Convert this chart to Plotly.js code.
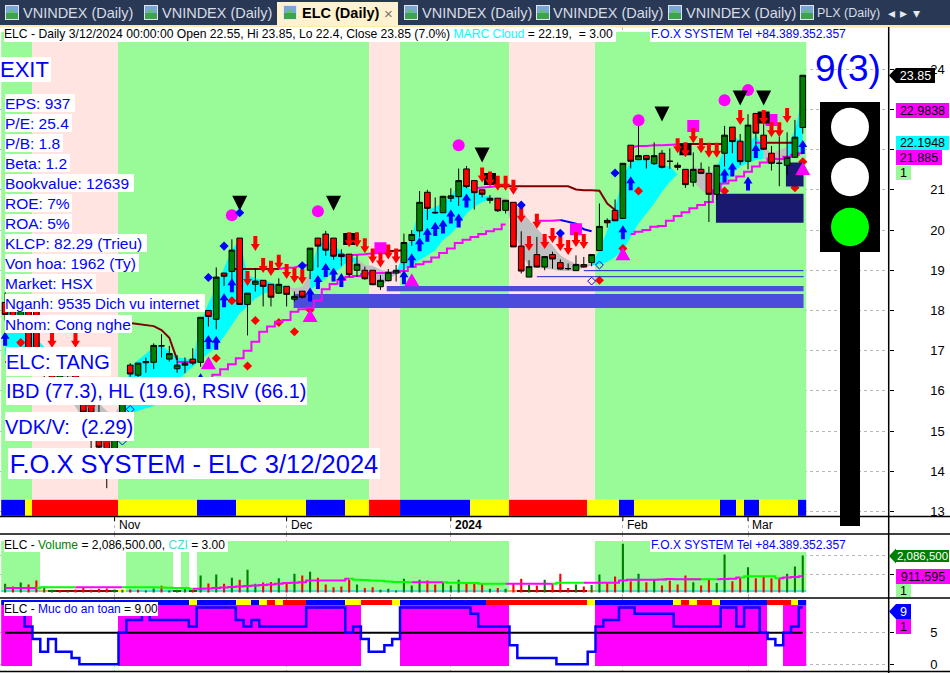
<!DOCTYPE html>
<html><head><meta charset="utf-8">
<script src="https://cdn.plot.ly/plotly-3.0.1.min.js"></script>
<style>html,body{margin:0;padding:0;background:#fff;overflow:hidden}#c{width:950px;height:673px}</style>
</head><body><div id="c"></div>
<script>
// ---------- price series (bar index 0..102) ----------
const openP=[18.20,18.00,17.70,18.20,18.10,16.80,16.50,16.10,16.40,16.60,15.95,15.95,15.40,14.90,14.50,15.35,
16.64,16.39,16.70,16.71,17.12,16.79,16.55,16.64,16.79,16.71,
18.00,17.78,18.93,18.97,19.80,18.15,18.65,18.75,18.65,18.43,18.60,18.28,18.48,
19.00,19.80,19.90,19.80,19.40,19.40,19.00,19.00,19.00,18.59,18.74,18.93,
19.19,19.74,19.98,20.94,20.44,20.43,20.79,20.83,21.52,21.23,
21.00,20.74,20.79,20.49,20.69,19.60,18.83,19.39,19.08,19.39,
19.19,19.04,18.99,19.14,19.19,19.49,20.24,20.49,20.29,22.11,
21.75,21.85,21.65,21.91,21.71,21.61,21.51,21.19,21.51,21.41,
20.89,21.91,22.56,22.21,21.71,22.90,22.36,21.91,21.66,21.61,21.81,22.55];
const highP=[18.45,18.25,18.10,18.30,18.20,17.00,16.70,16.50,16.70,16.70,16.00,16.00,15.70,15.00,15.40,16.05,
16.69,16.69,16.83,17.18,17.41,17.12,16.89,16.83,17.06,17.83,
18.00,19.07,18.93,19.77,19.80,18.43,19.05,18.75,18.65,18.80,18.60,18.47,18.48,
19.55,19.80,19.98,19.80,19.52,19.40,19.37,19.09,19.00,18.88,19.03,19.13,
19.91,20.00,20.97,21.00,20.81,20.84,21.04,21.53,21.59,21.23,
21.00,20.87,20.79,20.74,20.69,19.97,19.25,19.83,19.34,19.46,
19.27,19.17,19.37,19.33,19.39,20.66,20.29,20.76,21.66,22.11,
22.68,21.87,22.18,21.99,22.03,21.68,21.51,21.93,21.68,21.58,
21.61,22.59,22.56,22.39,22.88,22.90,22.94,22.09,22.32,22.43,22.74,23.85];
const lowP=[17.75,17.60,17.50,16.80,16.70,16.30,16.00,15.90,16.20,15.90,15.30,14.55,14.40,13.58,14.45,15.30,
16.35,16.30,16.45,16.54,16.83,16.73,16.45,16.44,16.64,16.60,
17.60,17.53,18.61,18.68,18.15,17.38,18.47,18.10,18.10,18.41,18.10,18.22,18.30,
18.78,19.07,19.36,19.26,19.11,18.83,18.83,18.76,18.63,18.51,18.72,18.72,
19.00,19.61,19.83,20.25,20.40,20.43,20.70,20.60,21.04,20.51,
20.81,20.66,20.45,20.41,19.58,18.92,18.83,19.07,19.00,19.04,
19.02,19.00,18.99,19.07,19.10,19.49,20.06,20.23,20.29,21.53,
21.74,21.53,21.62,21.53,21.52,21.49,21.05,21.08,21.39,20.20,
20.75,21.58,21.91,21.62,21.51,22.07,21.99,21.48,21.09,21.37,21.80,22.40];
const closeP=[17.90,17.70,18.00,16.90,16.85,16.50,16.10,16.40,16.60,16.00,15.47,15.45,14.60,14.20,15.30,15.95,
16.42,16.69,16.73,17.13,17.12,16.93,16.64,16.69,16.69,17.83,
17.85,18.83,18.85,19.50,18.15,18.43,18.73,18.60,18.33,18.65,18.40,18.35,18.33,
19.55,19.60,19.50,19.35,19.34,18.89,19.15,18.79,18.64,18.75,18.95,19.00,
19.69,19.89,20.69,20.54,20.43,20.84,20.85,21.23,21.08,20.93,
20.89,20.79,20.48,20.74,19.58,18.98,19.09,19.08,19.34,19.28,
19.03,19.04,19.14,19.08,19.39,20.09,20.18,20.23,21.66,21.71,
21.85,21.75,21.85,21.56,21.71,21.56,21.13,21.51,21.41,20.89,
21.61,22.36,22.20,21.70,22.61,22.41,22.01,21.66,21.66,21.81,22.31,23.85];

// ---------- MARC cloud ----------
const cloudTop=[18.2,18.3,18.2,17.9,17.3,17.1,17.0,17.0,16.9,16.8,15.9,15.8,15.7,15.5,15.4,15.8,
16.60,16.77,16.93,17.08,17.14,16.97,16.83,16.81,16.75,
17.72,18.18,18.59,19.05,19.51,19.76,18.88,18.80,18.76,18.69,18.64,18.61,
18.55,18.59,18.93,19.63,19.75,19.63,19.46,19.34,
19.30,19.13,19.11,19.01,18.97,18.93,
19.46,19.83,20.58,20.49,20.58,20.66,20.85,21.12,21.08,20.95,20.87,20.83,
20.83,20.79,20.64,20.50,20.25,20.04,19.83,19.62,19.37,19.25,19.17,19.15,19.17,
19.50,20.00,20.54,21.33,21.70,21.74,21.74,21.70,21.62,21.58,21.39,
21.41,21.56,21.53,21.41,21.53,22.07,22.32,22.24,22.16,22.36,22.06,
21.91,21.99,22.07,22.49,23.32];
const cloudBot=[16.9,16.85,16.8,16.8,16.75,16.7,16.4,16.2,15.9,15.6,15.3,15.0,14.7,14.55,14.5,15.3,
15.44,15.51,15.57,15.63,15.73,15.98,16.23,16.44,16.60,
16.75,16.93,17.10,17.35,17.64,17.93,18.10,18.30,18.41,18.49,18.55,18.61,
18.43,18.33,18.51,18.64,18.80,18.93,19.07,19.26,
19.13,18.80,18.64,18.59,18.76,18.90,
19.02,19.13,19.25,19.37,19.50,19.75,19.91,20.12,20.41,20.58,20.70,20.76,
20.70,20.54,20.08,19.42,19.08,19.07,19.04,19.02,18.98,18.98,19.00,19.07,19.12,
19.15,19.21,19.33,19.50,19.83,20.16,20.41,20.66,20.95,21.20,21.39,
21.41,21.20,21.00,20.87,20.95,21.16,21.41,21.58,21.66,21.74,21.78,
21.70,21.66,21.74,21.83,21.99];
const cyanRuns=[[0,5],[15,36],[39,45],[50,62],[75,86],[91,97],[100,102]];
const grayRuns=[[5,15],[36,39],[45,50],[62,75],[86,91],[97,100]];

// ---------- indicator lines ----------
const brownIdx=[16,17,18,19,20,21,22,null,29,30,31,32,33,34,35,null,49,50,51,null,63,64,65,66,67,68,69,70,71,72,73,74,75,76,77,78,null,87,88,89,90,91,92,null,97,98,99,100,101];
const brownVal=[17.69,17.66,17.64,17.61,17.51,17.32,16.77,null,19.03,19.03,19.03,19.03,19.03,19.03,19.03,null,19.47,19.48,19.50,null,21.09,21.09,21.09,21.09,21.09,21.09,21.09,21.09,21.09,21.09,21.01,20.99,20.99,20.98,20.66,20.50,null,22.14,22.14,22.14,22.14,22.14,22.14,null,22.17,22.17,22.17,22.17,22.17];
const magIdx=[22,23,24,null,35,36,37,38,39,null,43,44,45,46,47,48,49,null,60,61,62,63,null,68,69,70,71,null,80,81,82,83,84,85,86,87,null,96,97];
const magVal=[16.72,16.72,16.72,null,19.03,19.06,19.07,19.12,19.14,null,19.36,19.37,19.38,19.40,19.42,19.44,19.47,null,21.04,21.06,21.08,21.09,null,20.23,20.23,20.23,20.25,null,22.06,22.09,22.09,22.11,22.11,22.12,22.14,22.14,null,22.17,22.17];
const blueIdx=[71,72,73,74,75];
const blueVal=[20.25,20.20,20.16,20.02,19.97];
const trailIdx=[0,1,null,26,27,28,29,30,31,32,33,34,35,36,37,38,39,40,41,42,43,44,45,46,47,48,49,50,51,52,53,54,55,56,57,58,59,60,61,62,63,64,null,80,81,82,83,84,85,86,87,88,89,90,91,92,93,94,95,96,97,98,99,100,101,102];
const trailVal=[16.72,16.60,null,16.30,16.40,16.54,16.66,16.81,17.00,17.22,17.47,17.60,17.72,17.76,17.97,18.03,18.07,18.25,18.53,18.66,18.76,18.83,18.86,18.90,18.93,18.93,18.93,18.95,18.98,19.08,19.15,19.21,19.32,19.43,19.54,19.68,19.76,19.83,19.90,19.97,20.02,20.14,null,19.90,19.96,20.00,20.08,20.10,20.23,20.35,20.44,20.54,20.62,20.70,20.99,21.16,21.23,21.33,21.45,21.58,21.68,21.78,21.77,21.82,21.87,21.91];

// ---------- signals ----------
const blueArrowIdx=[0,25,26,27,28,29,39,40,41,42,43,51,52,53,54,55,56,57,58,59,79,80,92,93,95,96,102];
const blueArrowVal=[17.47,16.44,17.39,17.37,18.43,18.80,18.57,18.88,19.18,19.07,18.93,19.00,19.42,19.82,20.06,20.20,20.26,20.51,20.41,20.91,20.12,21.34,21.53,21.68,21.33,22.14,22.24];
const redArrowIdx=[6,9,11,13,31,32,33,34,35,36,37,38,44,45,46,47,48,49,50,61,62,63,64,65,66,67,68,69,70,71,72,73,74,86,87,88,89,90,91,94,97,98,99,100];
const redArrowVal=[17.07,17.07,15.47,14.60,18.61,19.48,18.93,18.86,19.01,18.78,18.68,18.65,19.57,19.57,19.42,19.17,19.07,19.27,19.17,21.18,21.08,20.98,20.98,20.88,20.18,19.48,20.03,19.53,19.68,19.48,19.38,19.58,19.53,21.91,21.81,22.16,21.91,21.80,21.80,22.61,22.61,22.31,22.31,22.66];
const blackTriIdx=[30,42,61,84,94,97];
const blackTriVal=[20.48,20.48,21.68,22.70,23.10,23.10];
const pinkTriIdx=[26,39,52,79,102];
const pinkTriVal=[16.54,17.71,18.60,19.25,21.37];
const circleIdx=[29,40,58,81,92,95];
const circleVal=[20.37,20.47,22.11,22.73,23.23,23.48];
const squareIdx=[48,73,88,98];
const squareVal=[19.55,20.02,22.59,22.74];
const blackSqIdx=[44,62,87,97];
const blackSqVal=[19.78,21.27,22.01,22.80];
const redDiaIdx=[2,27,29,31,32,35,37,39,76,79,81,92,101,102];
const redDiaVal=[17.20,16.81,18.24,16.62,17.75,17.70,17.47,18.01,18.75,19.54,20.97,20.97,21.05,21.70];
const blueDiaIdx=[26,28,30,38,66,71,78];
const blueDiaVal=[18.82,19.60,20.43,19.11,20.62,19.92,21.42];
const openDiaIdx=[15,16,75,76];
const openDiaVal=[14.75,15.54,18.73,19.13];

// ---------- support / resistance blocks ----------
const blockLeft=[36.9,48.8,90.9,99.85];
const blockRight=[102.1,102.1,102.1,102.1];
const blockTop=[18.41,18.61,20.90,21.68];
const blockBottom=[18.06,18.48,20.18,21.08];
const blockColor=['#4b4bdc','#4b4bdc','#191970','#191970'];
const supportStart=[74,68];
const supportEnd=[102.1,102.1];
const supportLevel=[18.99,18.84];

// ---------- volume pane ----------
const volumeM=[.49,.34,.57,.45,.68,.34,.15,.11,.08,.17,.30,.15,.21,.23,.17,.15,.17,.15,.11,.23,.38,.11,.15,.23,.15,
.96,.51,1.02,.49,.83,.72,1.28,.49,.57,.60,.81,.49,1.06,.96,1.17,.83,.45,.30,.34,.72,.45,.26,.30,.15,.21,.11,
.77,.40,.72,.68,.45,.60,.40,.72,.49,.55,.49,.21,.26,.21,.49,.77,.43,.40,.72,.49,1.06,.26,.45,.34,.43,
1.02,.55,.91,2.75,.64,1.06,.58,.72,.40,.68,.45,.96,.58,.40,.72,.53,2.15,.64,.83,1.43,.81,.91,.81,.77,1.06,1.47,2.0865];
const volumeDir=('GRGRRGGRGR'+'RRRRGGRRGG'+'RGGGRGRGRG'+'RGGRRGRGRG'+'RRRRRGRRGG'+'GGGGRRGGGR'+'RRGRGRRGRG'+'RRRGRGGRRG'+'RGRGRRRRGR'+'RGGRRGRRRR'+'GGG');
const volumeAvg=[.25,.25,.25,.25,.25,.30,.30,.30,.30,.30,.30,.30,.30,.30,.30,.30,.30,.30,.30,.29,.28,.27,.26,.25,.21,
.21,.23,.25,.28,.31,.34,.36,.40,.42,.45,.49,.53,.55,.58,.68,.68,.68,.68,.68,.77,
.72,.70,.68,.66,.62,.60,.60,.58,.58,.58,.58,.58,.55,.55,.53,.53,.49,.49,.49,.49,.49,.49,.49,.49,.49,.49,
.55,.55,.55,.55,.55,.55,.55,.55,.68,.72,.72,.72,.72,.74,.76,.75,.75,.75,.75,.75,.75,.76,.78,.85,.92,.92,.92,.92,.80,.85,.87,.911595];
const avgGreenRuns=[[5,10],[16,25],[45,53],[57,65],[71,75],[81,82],[85,86],[88,89],[90,92],[95,100]];
const cziRuns=[[0,5,0],[5,6,1],[6,7,4],[7,14,2],[14,15,4],[15,16,3],[16,22,0],[22,23,4],[23,24,0],[24,25,4],[25,65,0],[65,66,1],[66,75,2],[75,76,1],[76,103,0]];
const cziColors=['#40e0d0','#ffa050','#8b0000','#ffff00','#006400'];

// ---------- safety pane ----------
const safety=[8,8,8,6,4,2,4,2,2,1,0,0,0,0,0,5,7,7,8,7,7,7,7,7,6,9,9,9,9,9,7,6,7,6,6,6,6,6,6,9,9,9,9,9,5,6,4,2,2,3,4,
9,9,9,9,9,9,9,9,9,8,6,6,6,6,3,1,1,1,1,1,0,0,0,0,2,6,7,7,9,9,8,8,8,8,8,6,6,6,6,6,6,9,9,6,9,9,5,4,3,5,6,9];
const safetyLevel=5;

// ---------- state strips ----------
const trendRuns=[[0,4,1],[4,15,0],[15,47,1],[47,51,0],[51,65,1],[65,76,0],[76,103,1]];
const trendColors=['#ffe4e1','#98fb98'];
const signalRuns=[[0,3,0],[3,4,1],[4,15,2],[15,25,1],[25,30,0],[30,39,1],[39,44,0],[44,47,1],[47,51,2],[51,60,0],[60,65,1],[65,75,2],[75,79,1],[79,81,0],[81,92,1],[92,94,0],[94,95,1],[95,97,0],[97,102,1],[102,103,0]];
const signalColors=['#0000ff','#ffff00','#ff0000'];
const volBandRuns=[[0,5,1],[5,16,0],[16,22,1],[22,23,0],[23,24,1],[24,25,0],[25,65,1],[65,76,0],[76,103,1]];
const volBandColors=['#ffffff','#98fb98'];
const safeBandRuns=[[0,4,1],[4,15,0],[15,46,1],[46,51,0],[51,65,1],[65,76,0],[76,98,1],[98,100,0],[100,103,1]];
const safeBandColors=['#ffffff','#ff00ff'];
const safeStripRuns=[[0,24,0],[24,25,1],[25,30,0],[30,32,1],[32,33,0],[33,34,1],[34,35,2],[35,36,1],[36,39,2],[39,44,0],[44,46,1],[46,50,2],[50,51,1],[51,62,0],[62,75,2],[75,76,1],[76,86,0],[86,87,1],[87,88,2],[88,89,1],[89,91,2],[91,92,1],[92,98,0],[98,101,2],[101,102,1],[102,103,0]];

// ---------- axis labels ----------
const monthIdx=[14,36,57,79,95];
const monthText=['Nov','Dec','2024','Feb','Mar'];
const priceTicks=[24,23,22,21,20,19,18,17,16,15,14,13];
const priceTickText=['24','','','21','20','19','18','17','16','15','14','13'];
const volTicks=[2.0865,1.03];
const safeTicks=[5,0];

// ---------- info text ----------
const infoLines=['EPS: 937','P/E: 25.4','P/B: 1.8','Beta: 1.2','Bookvalue: 12639','ROE: 7%','ROA: 5%','KLCP: 82.29 (Trieu)','Von hoa: 1962 (Ty)','Market: HSX','Nganh: 9535 Dich vu internet','Nhom: Cong nghe'];
const infoWidth=[70,67,58,65,129,67,67,142,134,91,200,127];
const tabNames=['VNINDEX (Daily)','VNINDEX (Daily)','ELC (Daily)','VNINDEX (Daily)','VNINDEX (Daily)','VNINDEX (Daily)','PLX (Daily)'];
const tabTextX=[23,162,302,422,553,686,817];
const tabIconX=[5,144,283,404,536,668,800];

// ---------- helpers ----------
const W=950,H=673,PX=7.82,PY=40.2;
const idx=openP.map((_,i)=>i);
const fx=x=>x/W, fy=y=>1-y/H;
const MONO='"Liberation Sans",Arial,sans-serif';
function expand(runs){const a=[];runs.forEach(r=>{for(let i=r[0];i<r[1];i++)a[i]=r[2];});return a;}
function strip(runs,colors,center,height,xa,ya){
  const n=colors.length;
  return {type:'heatmap',x0:0,dx:1,y0:center,dy:height,z:[expand(runs)],zmin:0,zmax:n-1,
    colorscale:colors.map((c,k)=>[n>1?k/(n-1):0,c]),showscale:false,hoverinfo:'skip',xaxis:xa,yaxis:ya};
}
function glyphs(ix,vals,shape,color,xa,ya){
  const x=[],y=[];
  ix.forEach((c,k)=>{shape.forEach(p=>{x.push(c+p[0]/PX);y.push(vals[k]-p[1]/PY);});x.push(c+shape[0][0]/PX);y.push(vals[k]-shape[0][1]/PY);x.push(null);y.push(null);});
  return {type:'scatter',mode:'lines',x,y,fill:'toself',fillcolor:color,line:{width:0,color},hoverinfo:'skip',xaxis:xa,yaxis:ya};
}
function cloud(runs,color){
  const x=[],y=[];
  runs.forEach(r=>{
    for(let i=r[0];i<=r[1];i++){x.push(i);y.push(cloudTop[i]);}
    for(let i=r[1];i>=r[0];i--){x.push(i);y.push(cloudBot[i]);}
    x.push(null);y.push(null);
  });
  return {type:'scatter',mode:'lines',x,y,fill:'toself',fillcolor:color,line:{width:0,color},hoverinfo:'skip'};
}
function line(x,y,color,width,shape,ya){
  return {type:'scatter',mode:'lines',x,y,line:{color,width,shape:shape||'linear'},connectgaps:false,hoverinfo:'skip',yaxis:ya||'y'};
}
function markers(x,y,symbol,size,color,xa,ya,extra){
  return {type:'scatter',mode:'markers',x,y,marker:Object.assign({symbol,size,color,line:{width:0}},extra||{}),hoverinfo:'skip',xaxis:xa,yaxis:ya};
}

// ---------- traces ----------
const traces=[];
traces.push(strip(trendRuns,trendColors,19.11,11.64,'x','y'));
traces.push(strip(signalRuns,signalColors,13.09,0.40,'x','y'));
traces.push(strip(volBandRuns,volBandColors,1.525,2.77,'x','y2'));
traces.push(strip(cziRuns,cziColors,0.07,0.14,'x','y2'));
traces.push(strip(safeBandRuns,safeBandColors,4.58,9.6,'x','y3'));
traces.push(strip(safeStripRuns,signalColors,9.775,0.79,'x','y3'));
traces.push(cloud(cyanRuns,'#00ffff'));
traces.push(cloud(grayRuns,'#c0c0c0'));
traces.push(markers(redDiaIdx,redDiaVal,'diamond',7,'#ff0000','x','y'));
blockLeft.forEach((l,k)=>{
  traces.push({type:'scatter',mode:'lines',x:[l,blockRight[k],blockRight[k],l,l],y:[blockTop[k],blockTop[k],blockBottom[k],blockBottom[k],blockTop[k]],
    fill:'toself',fillcolor:blockColor[k],line:{width:0,color:blockColor[k]},hoverinfo:'skip'});
});
supportLevel.forEach((v,k)=>traces.push(line([supportStart[k],supportEnd[k]],[v,v],'#2222cc',1)));
traces.push(line(brownIdx,brownVal,'#800000',2));
traces.push(line(magIdx,magVal,'#ff00ff',2));
traces.push(line(blueIdx,blueVal,'#0000ff',2));
traces.push(line(trailIdx,trailVal,'#ff00ff',2,'hvh'));

// volume
traces.push({type:'bar',x:idx,y:volumeM,width:0.27,marker:{color:volumeM.map((_,i)=>volumeDir[i]==='G'?'#008000':'#ff0000'),line:{width:0}},hoverinfo:'skip',yaxis:'y2'});
const avgIsGreen=expand(avgGreenRuns.map(r=>[r[0],r[1],1]));
const avgG=[],avgM=[];
volumeAvg.forEach((v,i)=>{const g=!!avgIsGreen[i];const nextG=!!avgIsGreen[i+1];avgG[i]=(g||nextG)?v:null;avgM[i]=(!g||!nextG)?v:null;});
traces.push(line(idx,avgG,'#00ff00',2,'hvh','y2'));
traces.push(line(idx,avgM,'#ff00ff',2,'hvh','y2'));

// safety
traces.push(line(idx,idx.map(()=>safetyLevel),'#000000',2,'linear','y3'));
traces.push(line(idx,safety,'#0000ff',2.5,'hvh','y3'));

// candles (own overlay so they sit on the cloud)
traces.push({type:'candlestick',x:idx,open:openP,high:highP,low:lowP,close:closeP,xaxis:'x2',yaxis:'y4',
  increasing:{line:{color:'#000000',width:1},fillcolor:'#008000'},
  decreasing:{line:{color:'#000000',width:1},fillcolor:'#ff0000'},whiskerwidth:0,hoverinfo:'skip'});

// signals (overlay above the candles)
traces.push(markers(circleIdx,circleVal,'circle',12,'#ff00ff','x3','y5'));
traces.push(markers(squareIdx,squareVal,'square',12,'#ff00ff','x3','y5'));
traces.push(markers(blackSqIdx,blackSqVal,'square',12,'#000000','x3','y5'));
traces.push(glyphs(pinkTriIdx,pinkTriVal,[[-7.5,0],[7.5,0],[0,-13]],'#ff00ff','x3','y5'));
traces.push(glyphs(blackTriIdx,blackTriVal,[[0,0],[-7.5,-15],[7.5,-15]],'#000000','x3','y5'));
traces.push(glyphs(blueArrowIdx,blueArrowVal,[[0,0],[4.5,7],[2,7],[2,14],[-2,14],[-2,7],[-4.5,7]],'#0000ff','x3','y5'));
traces.push(glyphs(redArrowIdx,redArrowVal,[[0,0],[4.5,-7],[2,-7],[2,-15],[-2,-15],[-2,-7],[-4.5,-7]],'#ff0000','x3','y5'));
traces.push(markers(blueDiaIdx,blueDiaVal,'diamond',7,'#0000ff','x3','y5'));
traces.push(markers(openDiaIdx,openDiaVal,'diamond-open',6,'#0000ff','x3','y5',{line:{width:1,color:'#0000ff'}}));

// ---------- annotations ----------
const ann=[];
function box(text,x,y,w,h,size,color,bg,opts){
  ann.push(Object.assign({text,xref:'paper',yref:'paper',x:fx(x),y:fy(y),xanchor:'left',yanchor:'top',width:w,height:h,align:'left',valign:'middle',
    showarrow:false,borderpad:0,borderwidth:0,bgcolor:bg||'rgba(0,0,0,0)',font:{family:MONO,size,color}},opts||{}));
}
const BLUE='#0000ff';
box('ELC - Daily 3/12/2024 00:00:00 Open 22.55, Hi 23.85, Lo 22.4, Close 23.85 (7.0%) <span style="color:#00ffff">MARC Cloud</span> = 22.19,&nbsp; = 3.00',4,27,612,14.7,12.15,'#000','#fff');
box('F.O.X SYSTEM Tel +84.389.352.357',650,27,197,14.7,12,BLUE,'#fff',{align:'center'});
box('EXIT',0,57,51,25,22,BLUE,'#fff');
const infoTop=[94,114,134,154,174,194,214,234,254,274,294,315];
infoLines.forEach((t,k)=>box(t,5,infoTop[k],infoWidth[k],18,k===10?15:15.5,BLUE,'#fff'));
box('ELC: TANG',6,347,105,29,20,BLUE,'#fff');
box('IBD (77.3), HL (19.6), RSIV (66.1)',6,377,301,28,20,BLUE,'#fff');
box('VDK/V:&nbsp; (2.29)',5,412,129,29,20,BLUE,'#fff');
box('F.O.X SYSTEM - ELC 3/12/2024',8,448,372,31,25.5,BLUE,'#fff',{align:'center'});
box('ELC - <span style="color:#008000">Volume</span> = 2,086,500.00, <span style="color:#40e0d0">CZI</span> = 3.00',4,538,224,13.5,12,'#000','#fff');
box('F.O.X SYSTEM Tel +84.389.352.357',650,538,197,13.5,12,BLUE,'#fff',{align:'center'});
box('ELC - <span style="color:#0000ff">Muc do an toan</span> = 9.00',4,602,154,13.5,12,'#000','#fff');
box('9(3)',815,46,70,44,37,BLUE);
monthText.forEach((t,k)=>ann.push({text:k===2?'<b>'+t+'</b>':t,xref:'x',yref:'paper',x:monthIdx[k],y:fy(525),xanchor:'left',yanchor:'middle',xshift:2,showarrow:false,font:{family:MONO,size:12,color:'#000'}}));
// value tags
function tag(text,x,y,w,h,bg,color,size){box(text,x,y,w,h,size||12.5,color,bg,{align:'center'});}
tag('23.85',896,68,39,15,'#000000','#ffffff');
tag('22.9838',896,103,53,15,'#ff00ff','#000');
tag('22.1948',896,136,53,14,'#00ffff','#000');
tag('21.885',896,150,46,15,'#ff00ff','#000');
tag('1',896,166,15,14,'#98fb98','#000');
tag('2,086,500',896,550,53,12,'#008000','#fff',11.5);
tag('911,595',896,569,54,15,'#ff00ff','#000');
tag('1',896,584,15,13,'#98fb98','#000');
tag('9',896,604,15,15,'#0000ff','#fff');
tag('1',896,619,15,15,'#ff00ff','#000');
// tabs
tabNames.forEach((t,k)=>{
  const a=k===2;
  box(a?'<b>'+t+'</b>':t,tabTextX[k],3,k===6?67:112,20,k===6?12.5:14.5,a?'#000':'#d8dce6');
});
box('×',384,3,12,20,15,'#777');
box('◂',886,4,11,18,14,'#e6e8ee',null,{align:'center'});
box('▸',898,4,11,18,14,'#e6e8ee',null,{align:'center'});
box('▾',911,4,11,18,14,'#e6e8ee',null,{align:'center'});

// ---------- page furniture ----------
const sh=[];
function rect(x0,y0,x1,y1,color){sh.push({type:'rect',xref:'paper',yref:'paper',x0:fx(x0),x1:fx(x1),y0:fy(y0),y1:fy(y1),fillcolor:color,line:{width:0},layer:'above'});}
function hline(x0,x1,y,color,w){sh.push({type:'line',xref:'paper',yref:'paper',x0:fx(x0),x1:fx(x1),y0:fy(y),y1:fy(y),line:{color,width:w},layer:'above'});}
function tri(x,y,color){sh.push({type:'path',xref:'paper',yref:'paper',path:'M'+fx(x)+','+fy(y)+' L'+fx(x+7)+','+fy(y-7.5)+' L'+fx(x+7)+','+fy(y+7.5)+' Z',fillcolor:color,line:{width:0},layer:'above'});}
rect(0,0,950,25,'#293955');
rect(0,25,950,27.5,'#ffe9b0');
rect(277,2,398,26,'#fff3cf');
tabIconX.forEach(x=>{rect(x,5,x+14,20,'#dfe6ef');rect(x+1,6,x+13,13,'#7aa7d8');rect(x+1,13,x+13,19,'#3fa34d');rect(x+4,10,x+9,13,'#5fc46a');});
// traffic light
rect(820,102,880,252,'#000');
rect(840,252,860,526,'#000');
[[127,'#fff'],[177,'#fff'],[227,'#00ff00']].forEach(c=>sh.push({type:'circle',xref:'paper',yref:'paper',x0:fx(831),x1:fx(869),y0:fy(c[0]-19.3),y1:fy(c[0]+19.3),fillcolor:c[1],line:{width:0},layer:'above'}));
// pane frame
hline(0,950,516.5,'#000',1.5);
hline(0,950,534,'#000',1.5);
hline(0,950,598,'#000',1.5);
hline(0,950,671.5,'#000',1.5);
sh.push({type:'line',xref:'paper',yref:'paper',x0:fx(888.7),x1:fx(888.7),y0:fy(27),y1:fy(673),line:{color:'#000',width:1.5},layer:'above'});
monthIdx.forEach(m=>sh.push({type:'line',xref:'x',yref:'paper',x0:m,x1:m,y0:fy(516.5),y1:fy(521),line:{color:'#000',width:1},layer:'above'}));
tri(889,75.5,'#000');
tri(889,556,'#008000');
tri(889,611.5,'#0000ff');

const XR=[-0.652,112.99];
const YR=[12.44,25.05];
const xd=[0,888.7/W];
const grid={showgrid:true,griddash:'dot',gridcolor:'#b8b8b8',gridwidth:1,zeroline:false,showline:false};
const hidden={visible:false,fixedrange:true};
const layout={
  width:W,height:H,margin:{l:0,r:0,t:0,b:0},paper_bgcolor:'#fff',plot_bgcolor:'#fff',showlegend:false,barmode:'overlay',boxgap:0.15,boxgroupgap:0.15,
  xaxis:Object.assign({},grid,{domain:xd,range:XR,anchor:'y',tickmode:'array',tickvals:monthIdx,showticklabels:false,ticks:'',fixedrange:true}),
  yaxis:Object.assign({},grid,{domain:[fy(534),fy(27)],range:YR,side:'right',anchor:'x',tickmode:'array',tickvals:priceTicks,ticktext:priceTickText,ticks:'outside',ticklen:4,tickcolor:'#000',ticklabelstandoff:34,tickfont:{family:MONO,size:13,color:'#000'},fixedrange:true}),
  yaxis2:Object.assign({},grid,{domain:[fy(598),fy(534)],range:[-0.311,3.305],side:'right',anchor:'x',tickmode:'array',tickvals:volTicks,showticklabels:false,ticks:'outside',ticklen:4,tickcolor:'#000',fixedrange:true}),
  yaxis3:Object.assign({},grid,{domain:[fy(671),fy(598)],range:[-1.06,10.49],side:'right',anchor:'x',tickmode:'array',tickvals:safeTicks,ticks:'outside',ticklen:4,tickcolor:'#000',ticklabelstandoff:34,tickfont:{family:MONO,size:13,color:'#000'},fixedrange:true}),
  xaxis2:Object.assign({},hidden,{overlaying:'x',range:XR,anchor:'y4',rangeslider:{visible:false}}),
  yaxis4:Object.assign({},hidden,{overlaying:'y',range:YR,anchor:'x2'}),
  xaxis3:Object.assign({},hidden,{overlaying:'x',range:XR,anchor:'y5'}),
  yaxis5:Object.assign({},hidden,{overlaying:'y',range:YR,anchor:'x3'}),
  shapes:sh,annotations:ann,hovermode:false
};
Plotly.newPlot('c',traces,layout,{displayModeBar:false,staticPlot:true});
</script></body></html>
